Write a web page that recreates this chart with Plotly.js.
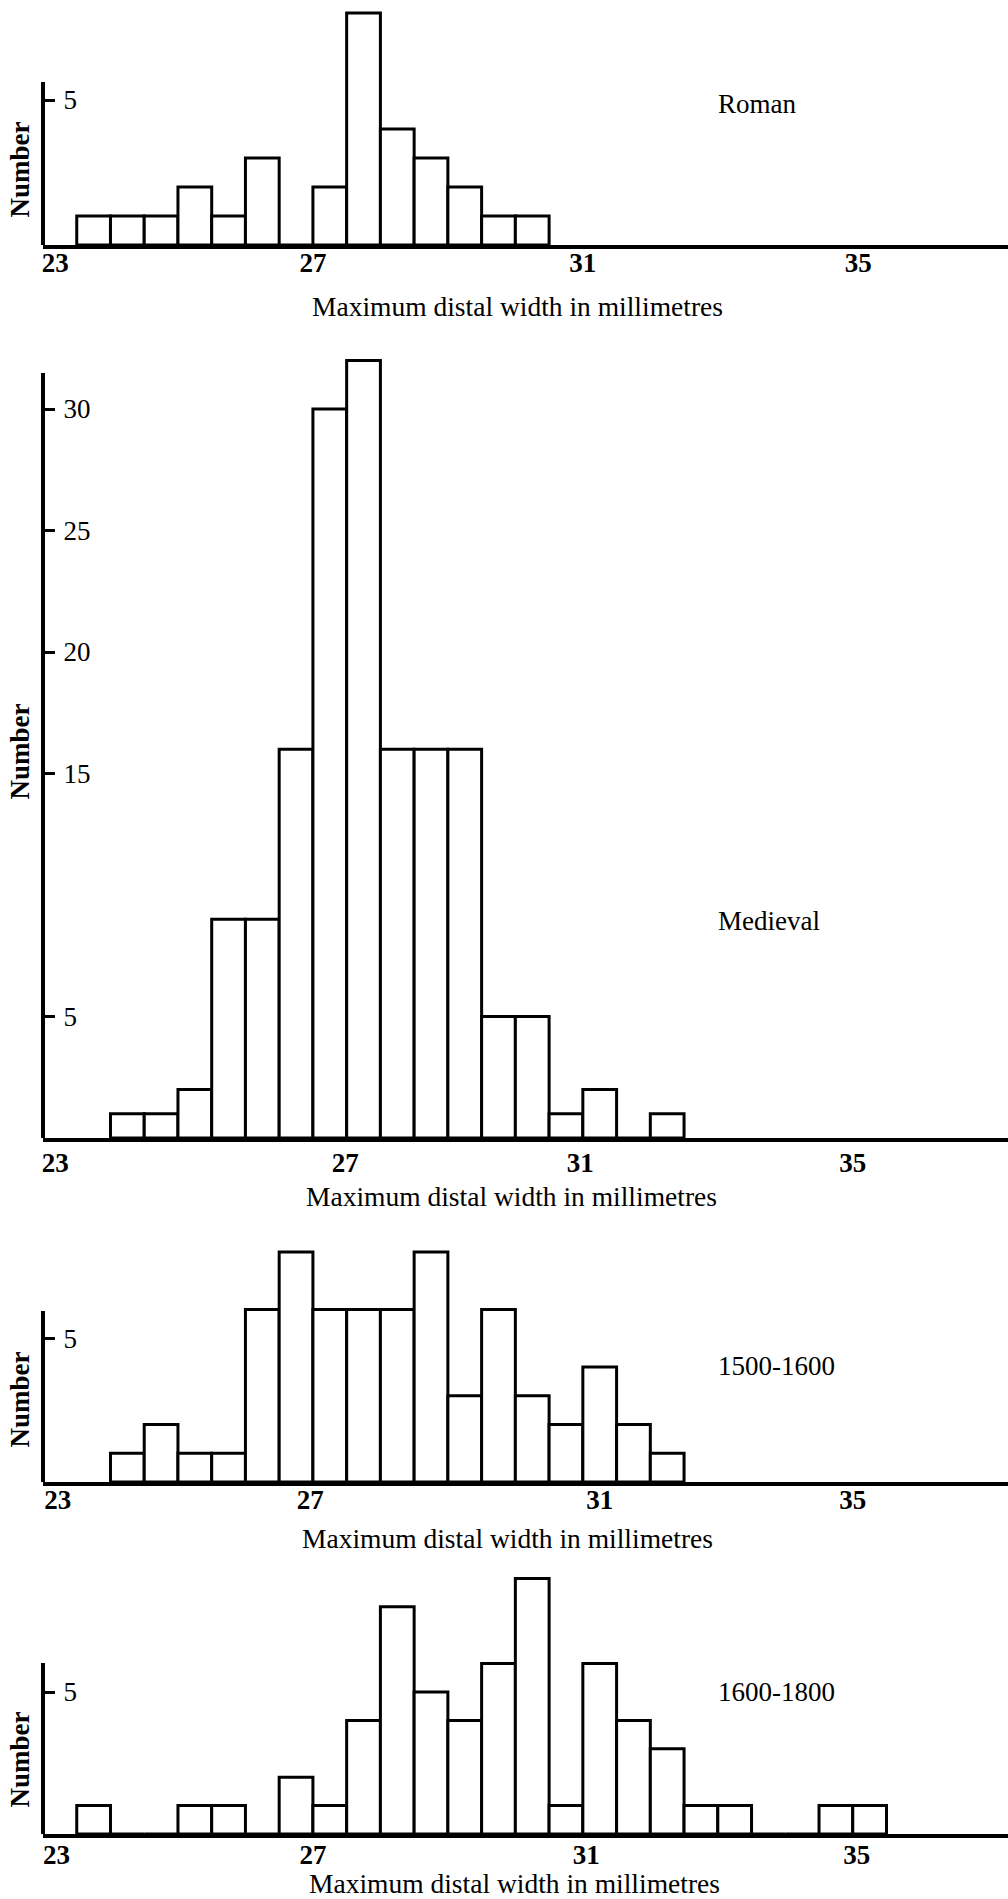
<!DOCTYPE html>
<html>
<head>
<meta charset="utf-8">
<script src="https://cdn.plot.ly/plotly-3.0.1.min.js"></script>
<style>
html, body { margin: 0; padding: 0; background: #ffffff; }
#chart { width: 1008px; height: 1899px; }
</style>
</head>
<body>
<div id="chart"></div>
<script>
// ---------- DATA ----------
// Each bar is a 0.5 mm class; x = class centre in mm, y = number of specimens.
const romanX = [23.75, 24.25, 24.75, 25.25, 25.75, 26.25, 26.75, 27.25, 27.75, 28.25, 28.75, 29.25, 29.75, 30.25];
const romanN = [1, 1, 1, 2, 1, 3, 0, 2, 8, 4, 3, 2, 1, 1];

const medievalX = [24.25, 24.75, 25.25, 25.75, 26.25, 26.75, 27.25, 27.75, 28.25, 28.75, 29.25, 29.75, 30.25, 30.75, 31.25, 31.75, 32.25];
const medievalN = [1, 1, 2, 9, 9, 16, 30, 32, 16, 16, 16, 5, 5, 1, 2, 0, 1];

const c1500X = [24.25, 24.75, 25.25, 25.75, 26.25, 26.75, 27.25, 27.75, 28.25, 28.75, 29.25, 29.75, 30.25, 30.75, 31.25, 31.75, 32.25];
const c1500N = [1, 2, 1, 1, 6, 8, 6, 6, 6, 8, 3, 6, 3, 2, 4, 2, 1];

const c1600X = [23.75, 24.25, 24.75, 25.25, 25.75, 26.25, 26.75, 27.25, 27.75, 28.25, 28.75, 29.25, 29.75, 30.25, 30.75, 31.25, 31.75, 32.25, 32.75, 33.25, 33.75, 34.25, 34.75, 35.25];
const c1600N = [1, 0, 0, 1, 1, 0, 2, 1, 4, 8, 5, 4, 6, 9, 1, 6, 4, 3, 1, 1, 0, 0, 1, 1];

const groupNames = ['Roman', 'Medieval', '1500-1600', '1600-1800'];
const xTitle = 'Maximum distal width in millimetres';
const yTitle = 'Number';

// x tick labels and where they are printed in each panel (mm)
const xTickText = ['23', '27', '31', '35'];
const romanXTicks = [23.18, 27.0, 31.0, 35.08];
const medievalXTicks = [23.18, 27.48, 30.96, 35.0];
const c1500XTicks = [23.22, 26.96, 31.25, 35.0];
const c1600XTicks = [23.2, 27.0, 31.05, 35.06];

// y tick values
const medievalYTicks = [5, 15, 20, 25, 30];
const singleYTicks = [5];

// ---------- LAYOUT GEOMETRY (pixels on the page) ----------
const FIG_W = 1008, FIG_H = 1899;
const X0 = 43, PX_PER_MM = 67.48;
const xRange = [23, 23 + (FIG_W - X0) / PX_PER_MM];
const FONT = 'Liberation Serif, Times New Roman, serif';

const panels = [
  {x: romanX, y: romanN, xt: romanXTicks, yt: singleYTicks, base: 245, unit: 29.0, top: 5, axisTop: 82,
   xStand: -9, numberY: 170, titleX: 517, titleY: 307, nameY: 104},
  {x: medievalX, y: medievalN, xt: medievalXTicks, yt: medievalYTicks, base: 1138, unit: 24.3, top: 345, axisTop: 373,
   xStand: -2, numberY: 752, titleX: 511, titleY: 1196, nameY: 921},
  {x: c1500X, y: c1500N, xt: c1500XTicks, yt: singleYTicks, base: 1482, unit: 28.75, top: 1240, axisTop: 1311,
   xStand: -9, numberY: 1400, titleX: 507, titleY: 1538, nameY: 1366},
  {x: c1600X, y: c1600N, xt: c1600XTicks, yt: singleYTicks, base: 1834, unit: 28.4, top: 1570, axisTop: 1663,
   xStand: -6, numberY: 1760, titleX: 514, titleY: 1883, nameY: 1692}
];

const layout = {
  width: FIG_W, height: FIG_H,
  margin: {l: 0, r: 0, t: 0, b: 0, pad: 0},
  showlegend: false,
  paper_bgcolor: '#ffffff',
  plot_bgcolor: 'rgba(0,0,0,0)',
  font: {family: FONT, size: 27, color: '#000000'},
  bargap: 0,
  annotations: [],
  shapes: []
};
const traces = [];

panels.forEach((p, i) => {
  const n = i === 0 ? '' : String(i + 1);
  const yTop = (p.base - p.top) / p.unit;
  traces.push({
    type: 'bar', x: p.x, y: p.y, width: 0.5,
    xaxis: 'x' + n, yaxis: 'y' + n,
    marker: {color: '#ffffff', line: {color: '#000000', width: 3}},
    hoverinfo: 'skip', name: groupNames[i]
  });
  layout['xaxis' + n] = {
    domain: [X0 / FIG_W, 1], range: xRange, anchor: 'y' + n,
    showgrid: false, zeroline: false,
    showline: true, linewidth: 4, linecolor: '#000000',
    ticks: '', tickmode: 'array', tickvals: p.xt, ticktext: xTickText,
    ticklabelstandoff: p.xStand,
    tickfont: {family: FONT, size: 27, color: '#000000', weight: 'bold'},
    fixedrange: true
  };
  // y axis placed at the left edge but with its ticks and labels on its right-hand side
  layout['yaxis' + n] = {
    domain: [1 - p.base / FIG_H, 1 - p.top / FIG_H], range: [0, yTop],
    anchor: 'free', position: X0 / FIG_W, side: 'right',
    showgrid: false, zeroline: false, showline: false,
    ticks: 'outside', ticklen: 11, tickwidth: 3, tickcolor: '#000000',
    tickmode: 'array', tickvals: p.yt, ticktext: p.yt.map(String),
    ticklabelstandoff: 3,
    tickfont: {family: FONT, size: 27, color: '#000000'},
    fixedrange: true
  };
  // vertical axis line, which stops short of the tallest bars in the original
  layout.shapes.push({
    type: 'line', xref: 'paper', yref: 'y' + n,
    x0: X0 / FIG_W, x1: X0 / FIG_W, y0: 0, y1: (p.base - p.axisTop) / p.unit,
    line: {color: '#000000', width: 4}
  });
  layout.annotations.push({
    text: yTitle, xref: 'paper', yref: 'paper', x: 19.5 / FIG_W, y: 1 - p.numberY / FIG_H,
    textangle: -90, showarrow: false, xanchor: 'center', yanchor: 'middle',
    font: {family: FONT, size: 27, color: '#000000', weight: 'bold'}
  });
  layout.annotations.push({
    text: xTitle, xref: 'paper', yref: 'paper', x: p.titleX / FIG_W, y: 1 - p.titleY / FIG_H,
    showarrow: false, xanchor: 'center', yanchor: 'middle',
    font: {family: FONT, size: 27.5, color: '#000000'}
  });
  layout.annotations.push({
    text: groupNames[i], xref: 'paper', yref: 'paper', x: 716 / FIG_W, y: 1 - p.nameY / FIG_H,
    showarrow: false, xanchor: 'left', yanchor: 'middle',
    font: {family: FONT, size: 27, color: '#000000'}
  });
});

Plotly.newPlot('chart', traces, layout, {staticPlot: true, displayModeBar: false});
</script>
</body>
</html>
